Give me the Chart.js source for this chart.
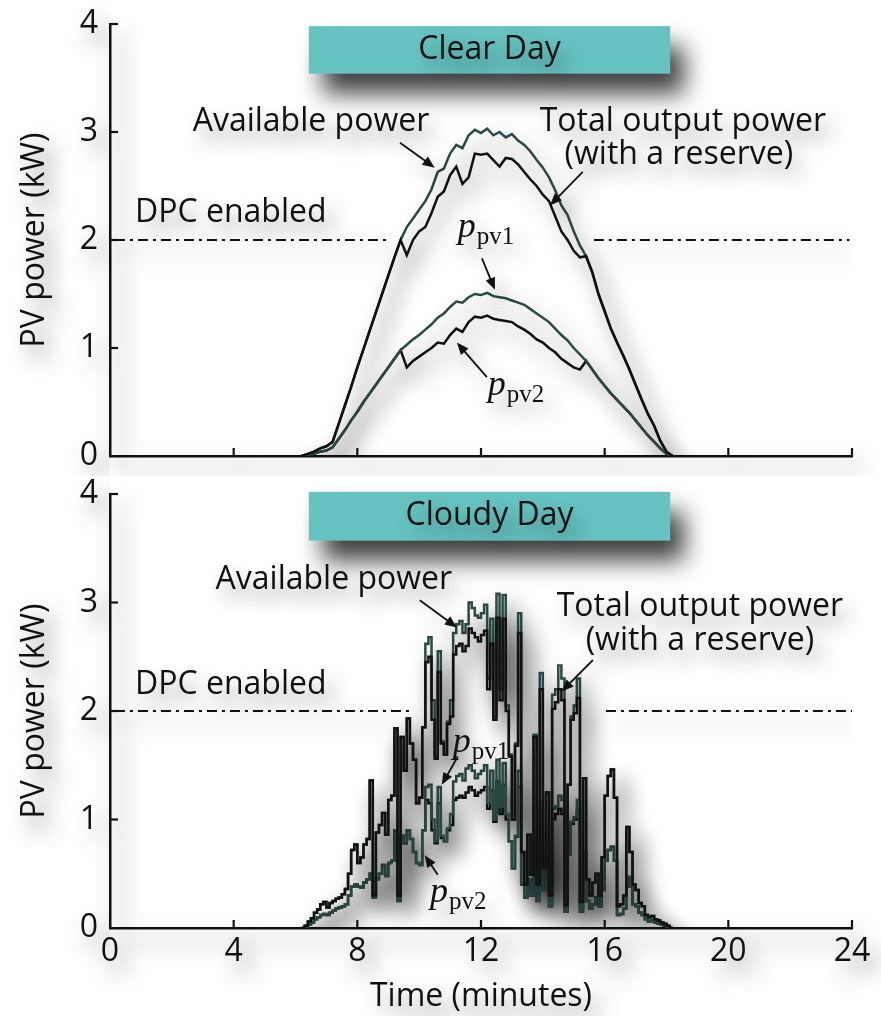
<!DOCTYPE html>
<html>
<head>
<meta charset="utf-8">
<script src="https://cdn.jsdelivr.net/npm/chart.js@4.4.0/dist/chart.umd.min.js"></script>
<style>
  body { margin: 0; background: #fff; }
  #wrap { position: relative; width: 881px; height: 1016px; }
  canvas { position: absolute; left: 0; }
</style>
</head>
<body>
<div id="wrap">
  <canvas id="clearChart" width="881" height="476" style="top:0px"></canvas>
  <canvas id="cloudyChart" width="881" height="540" style="top:476px"></canvas>
</div>
<script>
// ---- data (minutes, kW) ----
const xTicks = [0, 4, 8, 12, 16, 20, 24];
const yTicks = [0, 1, 2, 3, 4];
const dpcLevel = 2;
const clearDpcSpans = [[0.16, 8.96], [15.65, 23.92]];
const cloudyDpcSpans = [[0.16, 9.8], [16.04, 24]];

// clear day, every 0.2 min
const clearTime = [6.2,6.4,6.6,6.8,7.0,7.2,7.4,7.6,7.8,8.0,
  8.2,8.4,8.6,8.8,9.0,9.2,9.4,9.6,9.8,10.0,
  10.2,10.4,10.6,10.8,11.0,11.2,11.4,11.6,11.8,12.0,
  12.2,12.4,12.6,12.8,13.0,13.2,13.4,13.6,13.8,14.0,
  14.2,14.4,14.6,14.8,15.0,15.2,15.4,15.6,15.8,16.0,
  16.2,16.4,16.6,16.8,17.0,17.2,17.4,17.6,17.8,18.0,
  18.2];
const clearAvail = [0,0.02,0.04,0.07,0.09,0.13,0.3,0.47,0.64,0.82,
  0.99,1.16,1.33,1.5,1.67,1.84,2.0,2.12,2.2,2.28,
  2.36,2.47,2.63,2.66,2.8,2.88,2.85,2.97,3.02,2.99,
  3.03,2.97,3.0,2.95,2.98,2.92,2.88,2.82,2.74,2.67,
  2.58,2.46,2.32,2.23,2.08,1.95,1.85,1.7,1.5,1.34,
  1.18,1.05,0.93,0.8,0.66,0.52,0.39,0.28,0.14,0.04,
  0];
const clearOutput = [0,0.02,0.04,0.07,0.09,0.13,0.3,0.47,0.64,0.82,
  0.99,1.16,1.33,1.5,1.67,1.84,2.0,1.86,2.0,2.08,
  2.12,2.25,2.4,2.45,2.6,2.68,2.52,2.58,2.8,2.79,
  2.8,2.74,2.68,2.76,2.75,2.7,2.63,2.56,2.5,2.42,
  2.36,2.22,2.08,2.0,1.9,1.84,1.85,1.7,1.5,1.34,
  1.18,1.05,0.93,0.8,0.66,0.52,0.39,0.28,0.14,0.04,
  0];
const clearPv1 = [0,0.01,0.02,0.04,0.05,0.08,0.16,0.24,0.33,0.41,
  0.5,0.58,0.66,0.74,0.82,0.9,0.98,1.03,1.08,1.12,
  1.17,1.22,1.28,1.32,1.38,1.43,1.42,1.47,1.5,1.49,
  1.51,1.48,1.47,1.46,1.44,1.42,1.4,1.36,1.32,1.28,
  1.24,1.18,1.12,1.07,1.0,0.94,0.88,0.8,0.72,0.65,
  0.58,0.52,0.46,0.4,0.33,0.26,0.19,0.13,0.07,0.02,
  0];
const clearPv2 = [0,0.01,0.02,0.04,0.05,0.08,0.16,0.24,0.33,0.41,
  0.5,0.58,0.66,0.74,0.82,0.9,0.98,0.82,0.88,0.92,
  0.96,1.0,1.05,1.04,1.12,1.18,1.15,1.24,1.29,1.28,
  1.3,1.27,1.26,1.25,1.24,1.2,1.17,1.13,1.08,1.05,
  1.0,0.96,0.9,0.86,0.82,0.8,0.88,0.8,0.72,0.65,
  0.58,0.52,0.46,0.4,0.33,0.26,0.19,0.13,0.07,0.02,
  0];

// cloudy day, every 0.1 min
const cloudyTime = [6.2,6.3,6.4,6.5,6.6,6.7,6.8,6.9,7.0,7.1,
  7.2,7.3,7.4,7.5,7.6,7.7,7.8,7.9,8.0,8.1,
  8.2,8.3,8.4,8.5,8.6,8.7,8.8,8.9,9.0,9.1,
  9.2,9.3,9.4,9.5,9.6,9.7,9.8,9.9,10.0,10.1,
  10.2,10.3,10.4,10.5,10.6,10.7,10.8,10.9,11.0,11.1,
  11.2,11.3,11.4,11.5,11.6,11.7,11.8,11.9,12.0,12.1,
  12.2,12.3,12.4,12.5,12.6,12.7,12.8,12.9,13.0,13.1,
  13.2,13.3,13.4,13.5,13.6,13.7,13.8,13.9,14.0,14.1,
  14.2,14.3,14.4,14.5,14.6,14.7,14.8,14.9,15.0,15.1,
  15.2,15.3,15.4,15.5,15.6,15.7,15.8,15.9,16.0,16.1,
  16.2,16.3,16.4,16.5,16.6,16.7,16.8,16.9,17.0,17.1,
  17.2,17.3,17.4,17.5,17.6,17.7,17.8,17.9,18.0,18.1,
  18.2];
const cloudyAvail = [0,0.02,0.06,0.09,0.14,0.17,0.22,0.24,0.19,0.23,
  0.25,0.27,0.28,0.31,0.36,0.5,0.72,0.77,0.6,0.65,
  0.77,0.82,1.36,0.3,0.88,0.95,1.06,0.86,1.18,1.22,
  1.84,0.3,1.76,1.45,1.93,1.7,1.55,1.15,1.2,1.85,
  2.62,2.68,2.1,1.58,2.55,1.72,1.6,1.9,2.1,2.72,
  2.8,2.83,2.72,2.8,3.0,2.95,2.88,2.86,2.9,2.98,
  2.3,2.85,1.95,3.08,2.2,3.07,2.05,1.6,1.0,1.7,
  2.9,0.7,0.4,0.86,0.49,1.78,0.4,2.35,0.55,1.25,
  0.3,2.15,2.2,2.42,2.3,0.21,1.32,1.95,2.05,2.3,
  0.24,1.38,0.45,0.3,0.42,0.5,0.3,0.65,1.22,1.4,
  1.46,1.2,0.2,0.22,0.3,0.93,0.7,0.4,0.35,0.23,
  0.2,0.12,0.1,0.11,0.08,0.07,0.05,0.04,0.02,0,
  0];
const cloudyOutput = [0,0.02,0.06,0.09,0.14,0.17,0.22,0.24,0.19,0.23,
  0.25,0.27,0.28,0.31,0.36,0.5,0.72,0.77,0.6,0.65,
  0.77,0.82,1.36,0.3,0.88,0.95,1.06,0.86,1.18,1.22,
  1.84,0.3,1.76,1.45,1.93,1.7,1.55,1.15,1.2,1.85,
  2.45,2.5,1.92,1.56,2.36,1.7,1.6,1.88,1.95,2.52,
  2.6,2.62,2.55,2.6,2.76,2.72,2.68,2.64,2.7,2.74,
  2.2,2.62,1.92,2.86,2.1,2.85,2.0,1.58,1.0,1.68,
  2.72,0.7,0.4,0.86,0.49,1.76,0.4,2.2,0.55,1.25,
  0.3,2.02,2.08,2.2,2.1,0.21,1.32,1.92,1.98,2.12,
  0.24,1.38,0.45,0.3,0.42,0.5,0.3,0.65,1.22,1.4,
  1.46,1.2,0.2,0.22,0.3,0.93,0.7,0.4,0.35,0.23,
  0.2,0.12,0.1,0.11,0.08,0.07,0.05,0.04,0.02,0,
  0];
const cloudyPv1 = [0,0.01,0.03,0.05,0.08,0.1,0.12,0.13,0.12,0.14,
  0.16,0.18,0.19,0.2,0.22,0.3,0.38,0.4,0.38,0.37,
  0.42,0.45,0.5,0.28,0.45,0.5,0.58,0.48,0.6,0.62,
  0.9,0.25,0.85,0.78,0.9,0.82,0.7,0.6,0.58,0.9,
  1.3,1.32,1.0,0.8,1.3,0.85,0.8,0.92,1.05,1.35,
  1.4,1.42,1.36,1.47,1.5,1.45,1.38,1.42,1.45,1.5,
  1.15,1.45,1.0,1.55,1.12,1.52,1.05,0.8,0.55,0.85,
  1.45,0.4,0.28,0.45,0.3,0.9,0.25,1.15,0.35,0.65,
  0.2,1.1,1.12,1.22,1.18,0.15,0.68,0.98,1.02,1.18,
  0.15,0.7,0.25,0.18,0.22,0.28,0.2,0.35,0.62,0.72,
  0.75,0.62,0.12,0.13,0.18,0.47,0.38,0.22,0.2,0.14,
  0.12,0.08,0.06,0.07,0.05,0.04,0.03,0.02,0.01,0,
  0];
const cloudyPv2 = [0,0.01,0.03,0.05,0.08,0.1,0.12,0.13,0.12,0.14,
  0.16,0.18,0.19,0.2,0.22,0.3,0.38,0.4,0.38,0.37,
  0.42,0.45,0.5,0.28,0.45,0.5,0.58,0.48,0.6,0.62,
  0.9,0.25,0.85,0.78,0.9,0.82,0.7,0.6,0.58,0.9,
  1.18,1.15,0.9,0.78,1.15,0.83,0.8,0.9,0.95,1.18,
  1.2,1.22,1.2,1.25,1.3,1.27,1.22,1.25,1.27,1.3,
  1.1,1.27,0.98,1.35,1.05,1.32,1.0,0.8,0.55,0.84,
  1.3,0.4,0.28,0.45,0.3,0.88,0.25,1.08,0.35,0.65,
  0.2,1.0,1.05,1.1,1.05,0.15,0.68,0.96,1.0,1.08,
  0.15,0.7,0.25,0.18,0.22,0.28,0.2,0.35,0.62,0.72,
  0.75,0.62,0.12,0.13,0.18,0.47,0.38,0.22,0.2,0.14,
  0.12,0.08,0.06,0.07,0.05,0.04,0.03,0.02,0.01,0,
  0];

const TEAL = '#2a4a46';
const BLACK = '#111111';
const FONT = 32;

Chart.defaults.font.family = '"Open Sans", sans-serif';
Chart.defaults.color = '#111';

function pts(xs, ys) {
    return xs.map((t, i) => ({ x: t, y: ys[i] }));
}

function dpcPts(spans) {
    let out = [];
    spans.forEach((s, i) => {
        if (i > 0) out.push({ x: (spans[i - 1][1] + s[0]) / 2, y: null });
        out.push({ x: s[0], y: dpcLevel }, { x: s[1], y: dpcLevel });
    });
    return out;
}

function setShadow(ctx, a, blur, dx, dy) {
    ctx.shadowColor = 'rgba(0,0,0,' + a + ')';
    ctx.shadowBlur = blur;
    ctx.shadowOffsetX = dx;
    ctx.shadowOffsetY = dy;
}

function drawArrow(ctx, x1, y1, x2, y2) {
    const ang = Math.atan2(y2 - y1, x2 - x1);
    const hl = 12, hw = 5;
    ctx.beginPath();
    ctx.moveTo(x1, y1);
    ctx.lineTo(x2 - Math.cos(ang) * hl * 0.8, y2 - Math.sin(ang) * hl * 0.8);
    ctx.lineWidth = 1.8;
    ctx.strokeStyle = '#111';
    ctx.stroke();
    ctx.beginPath();
    ctx.moveTo(x2, y2);
    ctx.lineTo(x2 - Math.cos(ang) * hl - Math.sin(ang) * hw, y2 - Math.sin(ang) * hl + Math.cos(ang) * hw);
    ctx.lineTo(x2 - Math.cos(ang) * hl + Math.sin(ang) * hw, y2 - Math.sin(ang) * hl - Math.cos(ang) * hw);
    ctx.closePath();
    ctx.fillStyle = '#111';
    ctx.fill();
}

// shadows + inward ticks + labels, arrows, title box
const annotate = {
    id: 'annotate',
    beforeDraw(chart) {
        setShadow(chart.ctx, 0.55, 22, 9, 12);
    },
    afterDraw(chart, args, opts) {
        const ctx = chart.ctx;
        const x = chart.scales.x, y = chart.scales.y;
        const area = chart.chartArea;
        ctx.save();
        // inward tick marks
        ctx.strokeStyle = '#111';
        ctx.lineWidth = 2.2;
        xTicks.slice(1).forEach(v => {
            const px = x.getPixelForValue(v);
            ctx.beginPath();
            ctx.moveTo(px, area.bottom);
            ctx.lineTo(px, area.bottom - 8);
            ctx.stroke();
        });
        yTicks.slice(1).forEach(v => {
            const py = y.getPixelForValue(v);
            ctx.beginPath();
            ctx.moveTo(area.left, py);
            ctx.lineTo(area.left + 8, py);
            ctx.stroke();
        });

        // title box
        const b = opts.box;
        const bx0 = x.getPixelForValue(b.x0), bx1 = x.getPixelForValue(b.x1);
        const by0 = y.getPixelForValue(b.y0), by1 = y.getPixelForValue(b.y1);
        setShadow(ctx, 0.75, 24, 14, 20);
        ctx.fillStyle = '#66c3c1';
        ctx.fillRect(bx0, by0, bx1 - bx0, by1 - by0);
        setShadow(ctx, 0.45, 20, 8, 11);
        ctx.fillStyle = '#111';
        ctx.font = FONT + 'px "Open Sans"';
        ctx.textAlign = 'center';
        ctx.textBaseline = 'middle';
        ctx.fillText(b.text, (bx0 + bx1) / 2, (by0 + by1) / 2);

        // text labels
        opts.labels.forEach(l => {
            ctx.textAlign = l.align || 'center';
            ctx.fillText(l.text, x.getPixelForValue(l.x), y.getPixelForValue(l.y));
        });

        // math labels p_pv
        opts.math.forEach(m => {
            const px = x.getPixelForValue(m.x), py = y.getPixelForValue(m.y);
            ctx.textAlign = 'left';
            ctx.textBaseline = 'alphabetic';
            ctx.font = 'italic 36px "Liberation Serif"';
            ctx.fillText('p', px, py);
            const w = ctx.measureText('p').width;
            ctx.font = '25px "Liberation Serif"';
            ctx.fillText(m.sub, px + w + 1, py + 7);
        });

        // arrows
        opts.arrows.forEach(a => {
            drawArrow(ctx, x.getPixelForValue(a[0]), y.getPixelForValue(a[1]),
                x.getPixelForValue(a[2]), y.getPixelForValue(a[3]));
        });
        ctx.restore();
    }
};

function makeChart(id, cfg) {
    const ctx = document.getElementById(id);
    return new Chart(ctx, {
        type: 'line',
        data: {
            datasets: [
                { data: pts(cfg.time, cfg.output), borderColor: BLACK, order: 0 },
                { data: pts(cfg.time, cfg.pv1), borderColor: TEAL, order: 1 },
                { data: pts(cfg.time, cfg.pv2), borderColor: BLACK, order: 2 },
                { data: pts(cfg.time, cfg.avail), borderColor: TEAL, order: 3 },
                { data: dpcPts(cfg.dpc), borderColor: BLACK, borderWidth: 2.2, borderDash: [10, 5, 3, 5], order: 5, stepped: false }
            ]
        },
        options: {
            responsive: false,
            animation: false,
            spanGaps: false,
            datasets: {
                line: { pointRadius: 0, borderWidth: 2.5, fill: false, tension: 0, stepped: cfg.stepped }
            },
            layout: { padding: { top: cfg.padTop, right: 29, left: 0, bottom: 0 } },
            plugins: {
                legend: { display: false },
                tooltip: { enabled: false },
                annotate: cfg.notes
            },
            scales: {
                x: {
                    type: 'linear', min: 0, max: 24,
                    grid: { display: false, drawTicks: false },
                    border: { display: true, color: '#111', width: 2.5 },
                    ticks: { display: cfg.showX, stepSize: 4, padding: 5, font: { size: FONT }, color: '#111' },
                    title: { display: cfg.showX, text: 'Time (minutes)', font: { size: FONT }, color: '#111', padding: { top: 0, bottom: 0 } },
                    afterFit(scale) {
                        scale.height = cfg.xHeight;
                        scale.paddingLeft = 0;
                        scale.paddingRight = 0;
                    }
                },
                y: {
                    min: 0, max: 4,
                    grid: { display: false, drawTicks: false },
                    border: { display: true, color: '#111', width: 2.5 },
                    ticks: { stepSize: 1, padding: 12, font: { size: FONT }, color: '#111' },
                    title: { display: true, text: 'PV power (kW)', font: { size: FONT }, color: '#111', padding: { top: 16, bottom: 0 } },
                    afterFit(scale) {
                        scale.width = 110;
                        scale.paddingTop = 0;
                        scale.paddingBottom = 0;
                    }
                }
            }
        },
        plugins: [annotate]
    });
}

makeChart('clearChart', {
    time: clearTime, avail: clearAvail, output: clearOutput, pv1: clearPv1, pv2: clearPv2,
    dpc: clearDpcSpans, stepped: false, padTop: 24, xHeight: 20, showX: false,
    notes: {
        box: { x0: 6.43, x1: 18.12, y0: 3.98, y1: 3.54, text: 'Clear Day' },
        labels: [
            { text: 'Available power', x: 6.5, y: 3.09 },
            { text: 'Total output power', x: 18.53, y: 3.09 },
            { text: '(with a reserve)', x: 18.4, y: 2.79 },
            { text: 'DPC enabled', x: 0.81, y: 2.25, align: 'left' }
        ],
        math: [{ sub: 'pv1', x: 11.25, y: 2.03 }, { sub: 'pv2', x: 12.22, y: 0.565 }],
        arrows: [[9.38, 2.9, 10.5, 2.67], [15.29, 2.63, 14.23, 2.32], [12.03, 1.83, 12.45, 1.54], [12.19, 0.73, 11.22, 1.05]]
    }
});

makeChart('cloudyChart', {
    time: cloudyTime, avail: cloudyAvail, output: cloudyOutput, pv1: cloudyPv1, pv2: cloudyPv2,
    dpc: cloudyDpcSpans, stepped: true, padTop: 18, xHeight: 88, showX: true,
    notes: {
        box: { x0: 6.43, x1: 18.12, y0: 4.02, y1: 3.57, text: 'Cloudy Day' },
        labels: [
            { text: 'Available power', x: 7.24, y: 3.21 },
            { text: 'Total output power', x: 19.08, y: 2.96 },
            { text: '(with a reserve)', x: 19.08, y: 2.65 },
            { text: 'DPC enabled', x: 0.81, y: 2.24, align: 'left' }
        ],
        math: [{ sub: 'pv1', x: 11.09, y: 1.62 }, { sub: 'pv2', x: 10.35, y: 0.24 }],
        arrows: [[10.02, 3.02, 11.22, 2.77], [15.62, 2.47, 14.61, 2.18], [11.25, 1.58, 10.73, 1.32], [10.6, 0.49, 10.18, 0.67]]
    }
});
</script>
</body>
</html>
